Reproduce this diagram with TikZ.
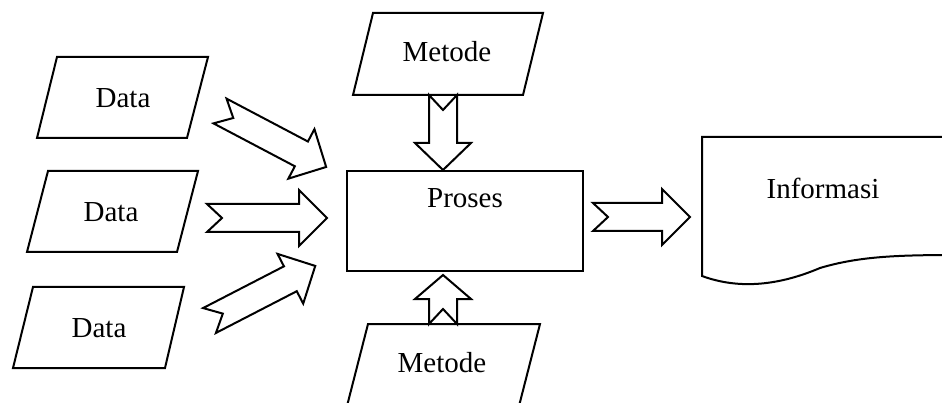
\documentclass[tikz,border=0pt]{standalone}
\usepackage{fontspec}
\setmainfont{Liberation Serif}
\newcommand\blockarr[5]{%
  \draw[arrowline,shift={(#1,#2)},rotate=#3]
    (0,-14) -- ({#4-#5},-14) -- ({#4-#5},-28) -- (#4,0) -- ({#4-#5},28)
    -- ({#4-#5},14) -- (0,14) -- (15,0) -- cycle;}
\begin{document}
\begin{tikzpicture}[x=1pt,y=-1pt,
  shapeline/.style={draw=black, line width=2pt, line join=miter},
  arrowline/.style={draw=black, line width=2pt, fill=white, line join=miter},
  lbl/.style={font=\fontsize{29}{34}\selectfont, inner sep=0pt, anchor=center}]
\useasboundingbox (0,0) rectangle (942,403);
\clip (0,0) rectangle (942,403);
\fill[white] (0,0) rectangle (942,403);

% block arrows
\blockarr{220}{111}{-27.8}{120}{28}
\blockarr{207}{218}{0}{120}{28}
\blockarr{209.5}{320.5}{27.3}{119}{28}
\blockarr{443}{95}{-90}{75}{27}
\blockarr{443}{324}{90}{49}{24}
\blockarr{593}{217}{0}{97}{28}

% data inputs
\draw[shapeline] (57,57) -- (208,57) -- (187,138) -- (37,138) -- cycle;
\node[lbl] (data1) at (123,98) {Data};
\draw[shapeline] (48,171) -- (198,171) -- (177,252) -- (27,252) -- cycle;
\node[lbl] (data2) at (111,212) {Data};
\draw[shapeline] (33,287) -- (184,287) -- (165,368) -- (13,368) -- cycle;
\node[lbl] (data3) at (99,328) {Data};

% methods
\draw[shapeline] (373,13) -- (543,13) -- (523,95) -- (353,95) -- cycle;
\node[lbl] (metode1) at (447,52) {Metode};
\draw[shapeline] (368,324) -- (540,324) -- (519,406) -- (347,406) -- cycle;
\node[lbl] (metode2) at (442,363) {Metode};

% process
\draw[shapeline] (347,171) rectangle (583,271);
\node[lbl] (proses) at (465,198) {Proses};

% document
\draw[shapeline] (960,255) -- (960,137) -- (702,137) -- (702,276)
  .. controls (740,290) and (780,285) .. (820,268)
  .. controls (860,256) and (900,255) .. (960,255);
\node[lbl] (info) at (823,188) {Informasi};
\end{tikzpicture}
\end{document}
